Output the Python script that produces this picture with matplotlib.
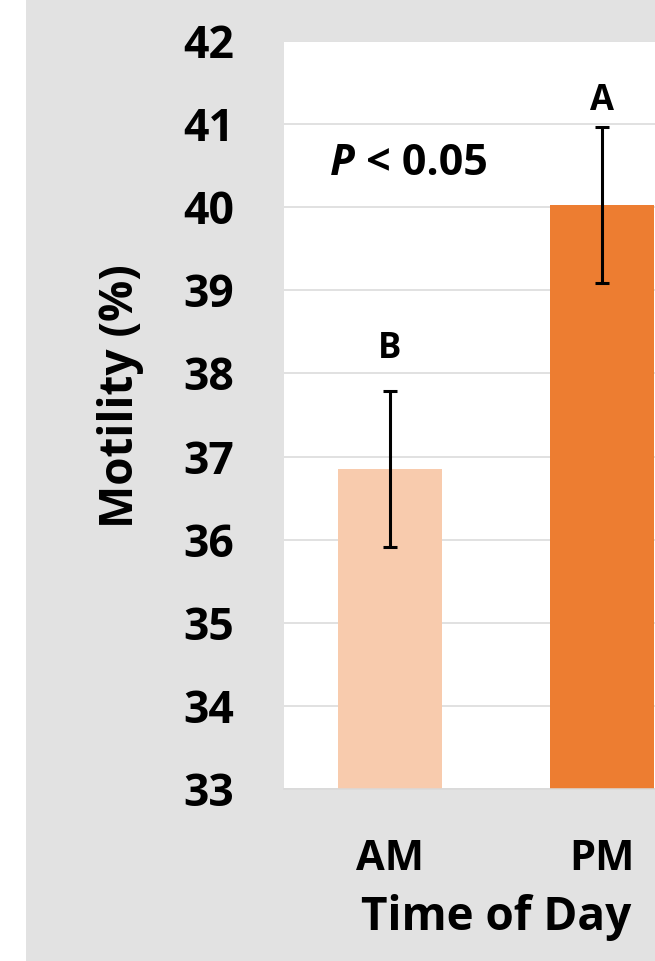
import matplotlib
matplotlib.use('Agg')
import matplotlib.pyplot as plt
from matplotlib.patches import Rectangle

plt.rcParams['font.family'] = ['Open Sans', 'DejaVu Sans']
plt.rcParams['font.weight'] = 'bold'

times = ['AM', 'PM']
motility = [36.85, 40.03]
sem = [0.94, 0.94]
letters = ['B', 'A']
colors = ['#f8cbad', '#ed7d31']
yticks = list(range(33, 43))

fig = plt.figure(figsize=(6.55, 9.61), dpi=100, facecolor='white')
fig.patches.append(Rectangle((26 / 655, 0), 1, 1, transform=fig.transFigure,
                             facecolor='#e2e2e2', edgecolor='none', zorder=-10))

ax = fig.add_axes([284 / 655, 172 / 961, 424 / 655, 748 / 961])
ax.set_zorder(5)
ax.set_facecolor('white')

x = range(len(times))
ax.bar(x, motility, width=0.49, color=colors, zorder=2)
ax.errorbar(x, motility, yerr=sem, fmt='none', ecolor='black',
            elinewidth=2.2, capsize=4.7, capthick=2.2, zorder=3)

ax.set_xlim(-0.5, 1.5)
ax.set_ylim(33, 42)
ax.set_yticks(yticks)
ax.set_xticks(list(x))
ax.set_xticklabels(times)
ax.yaxis.grid(True, color='#d9d9d9', linewidth=1.1, zorder=0)
ax.set_axisbelow(True)

for s in ['top', 'right', 'left']:
    ax.spines[s].set_visible(False)
ax.spines['bottom'].set_color('#d9d9d9')
ax.spines['bottom'].set_linewidth(1.1)

ax.tick_params(axis='y', length=0, pad=36, labelsize=32)
ax.tick_params(axis='x', length=0, pad=36, labelsize=30)
for lab in ax.get_xticklabels() + ax.get_yticklabels():
    lab.set_fontweight('bold')

ax.set_ylabel('Motility (%)', fontsize=33, fontweight='bold')
ax.yaxis.set_label_coords(-0.33, 0.525)
ax.set_xlabel('Time of Day', fontsize=33, fontweight='bold', labelpad=10)

# significance letters above the error bars
ax.text(0, 38.19, letters[0], ha='center', va='baseline', fontsize=25, fontweight='bold')
ax.text(1, 41.17, letters[1], ha='center', va='baseline', fontsize=25, fontweight='bold')

ptxt = ax.text(-0.283, 40.39, 'P', ha='left', va='baseline', fontsize=31,
               fontweight='bold', fontstyle='italic')
ax.annotate(' < 0.05', xy=(1, 0), xycoords=ptxt, ha='left', va='bottom',
            fontsize=31, fontweight='bold')

fig.savefig('out.png', dpi=100, facecolor=fig.get_facecolor())
